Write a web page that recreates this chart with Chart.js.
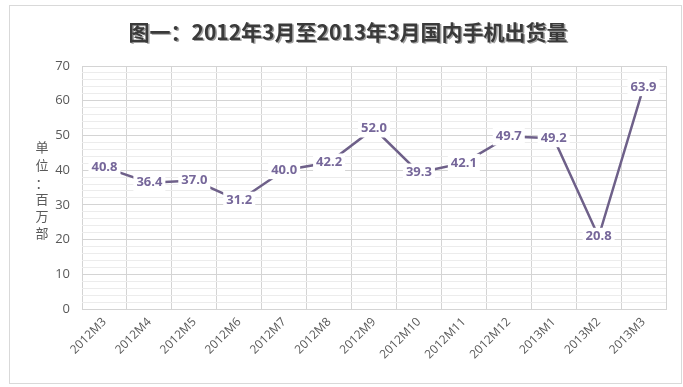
<!DOCTYPE html>
<html><head><meta charset="utf-8">
<script src="https://cdn.jsdelivr.net/npm/chart.js@4/dist/chart.umd.min.js"></script>
<style>html,body{margin:0;padding:0;background:#fff}#wrap{width:683px;height:387px;position:relative}</style>
</head><body><div id="wrap"><canvas id="c" width="683" height="387"></canvas></div>
<script>
const categories = ['2012M3','2012M4','2012M5','2012M6','2012M7','2012M8','2012M9','2012M10','2012M11','2012M12','2013M1','2013M2','2013M3'];
const shipments = [40.8,36.4,37.0,31.2,40.0,42.2,52.0,39.3,42.1,49.7,49.2,20.8,63.9];
const titleText = '图一：2012年3月至2013年3月国内手机出货量';
const yTitleChars = ['单','位','：','百','万','部'];

const decor = {
  id:'decor',
  beforeDraw(chart){
    const ctx = chart.ctx;
    ctx.save();
    ctx.fillStyle='#fff'; ctx.fillRect(0,0,chart.width,chart.height);
    ctx.strokeStyle='#d9d9d9'; ctx.lineWidth=1;
    ctx.strokeRect(9.5,5.5,672,378);
    // title
    ctx.font='bold 21px "Noto Sans CJK SC"';
    ctx.textAlign='center'; ctx.textBaseline='middle';
    ctx.fillStyle='#a0a0a0';
    ctx.fillText(titleText, 349.5, 33.5);
    ctx.fillStyle='#3a3a3a';
    ctx.fillText(titleText, 348, 32);
    // y title
    ctx.font='13px "Noto Sans CJK SC"';
    ctx.fillStyle='#595959';
    const ys=[147,165,183,199,216,233];
    yTitleChars.forEach((ch,i)=>ctx.fillText(ch,42,ys[i]));
    ctx.restore();
  },
  afterDatasetsDraw(chart){
    const ctx = chart.ctx;
    const meta = chart.getDatasetMeta(0);
    ctx.save();
    ctx.font='bold 13px "Open Sans"';
    ctx.textAlign='center'; ctx.textBaseline='middle';
    meta.data.forEach((pt,i)=>{
      const t = shipments[i].toFixed(1);
      const w = ctx.measureText(t).width;
      ctx.fillStyle='#fff';
      ctx.fillRect(pt.x-w/2-3, pt.y-9, w+6, 18);
      ctx.fillStyle='#76679a';
      ctx.fillText(t, pt.x, pt.y);
    });
    ctx.restore();
  }
};

new Chart(document.getElementById('c'), {
  type:'line',
  data:{labels:categories, datasets:[{data:shipments, borderColor:'#6e6089', borderWidth:2.5, pointRadius:0, tension:0, fill:false}]},
  options:{
    responsive:false, animation:false,
    layout:{padding:{top:66,right:17,left:0,bottom:0}},
    plugins:{legend:{display:false}, title:{display:false}, tooltip:{enabled:false}},
    scales:{
      x:{
        offset:true,
        grid:{offset:true, color:'#d4d4d4', drawTicks:false},
        border:{color:'#d4d4d4'},
        ticks:{autoSkip:false, maxRotation:45, minRotation:45, color:'#595959', font:{family:'"Open Sans"', size:12}, padding:6},
        afterFit(s){ s.height = 78; }
      },
      y:{
        min:0, max:70,
        grid:{color:(c)=> (c.tick && c.tick.value%10===0) ? '#d4d4d4' : '#ececec', drawTicks:false},
        border:{display:false},
        ticks:{stepSize:2, autoSkip:false, color:'#595959', font:{family:'"Open Sans"', size:13}, padding:12,
          callback:(v)=> v%10===0 ? String(v) : ''},
        afterFit(s){ s.width = 82; }
      }
    }
  },
  plugins:[decor]
});
</script></body></html>
